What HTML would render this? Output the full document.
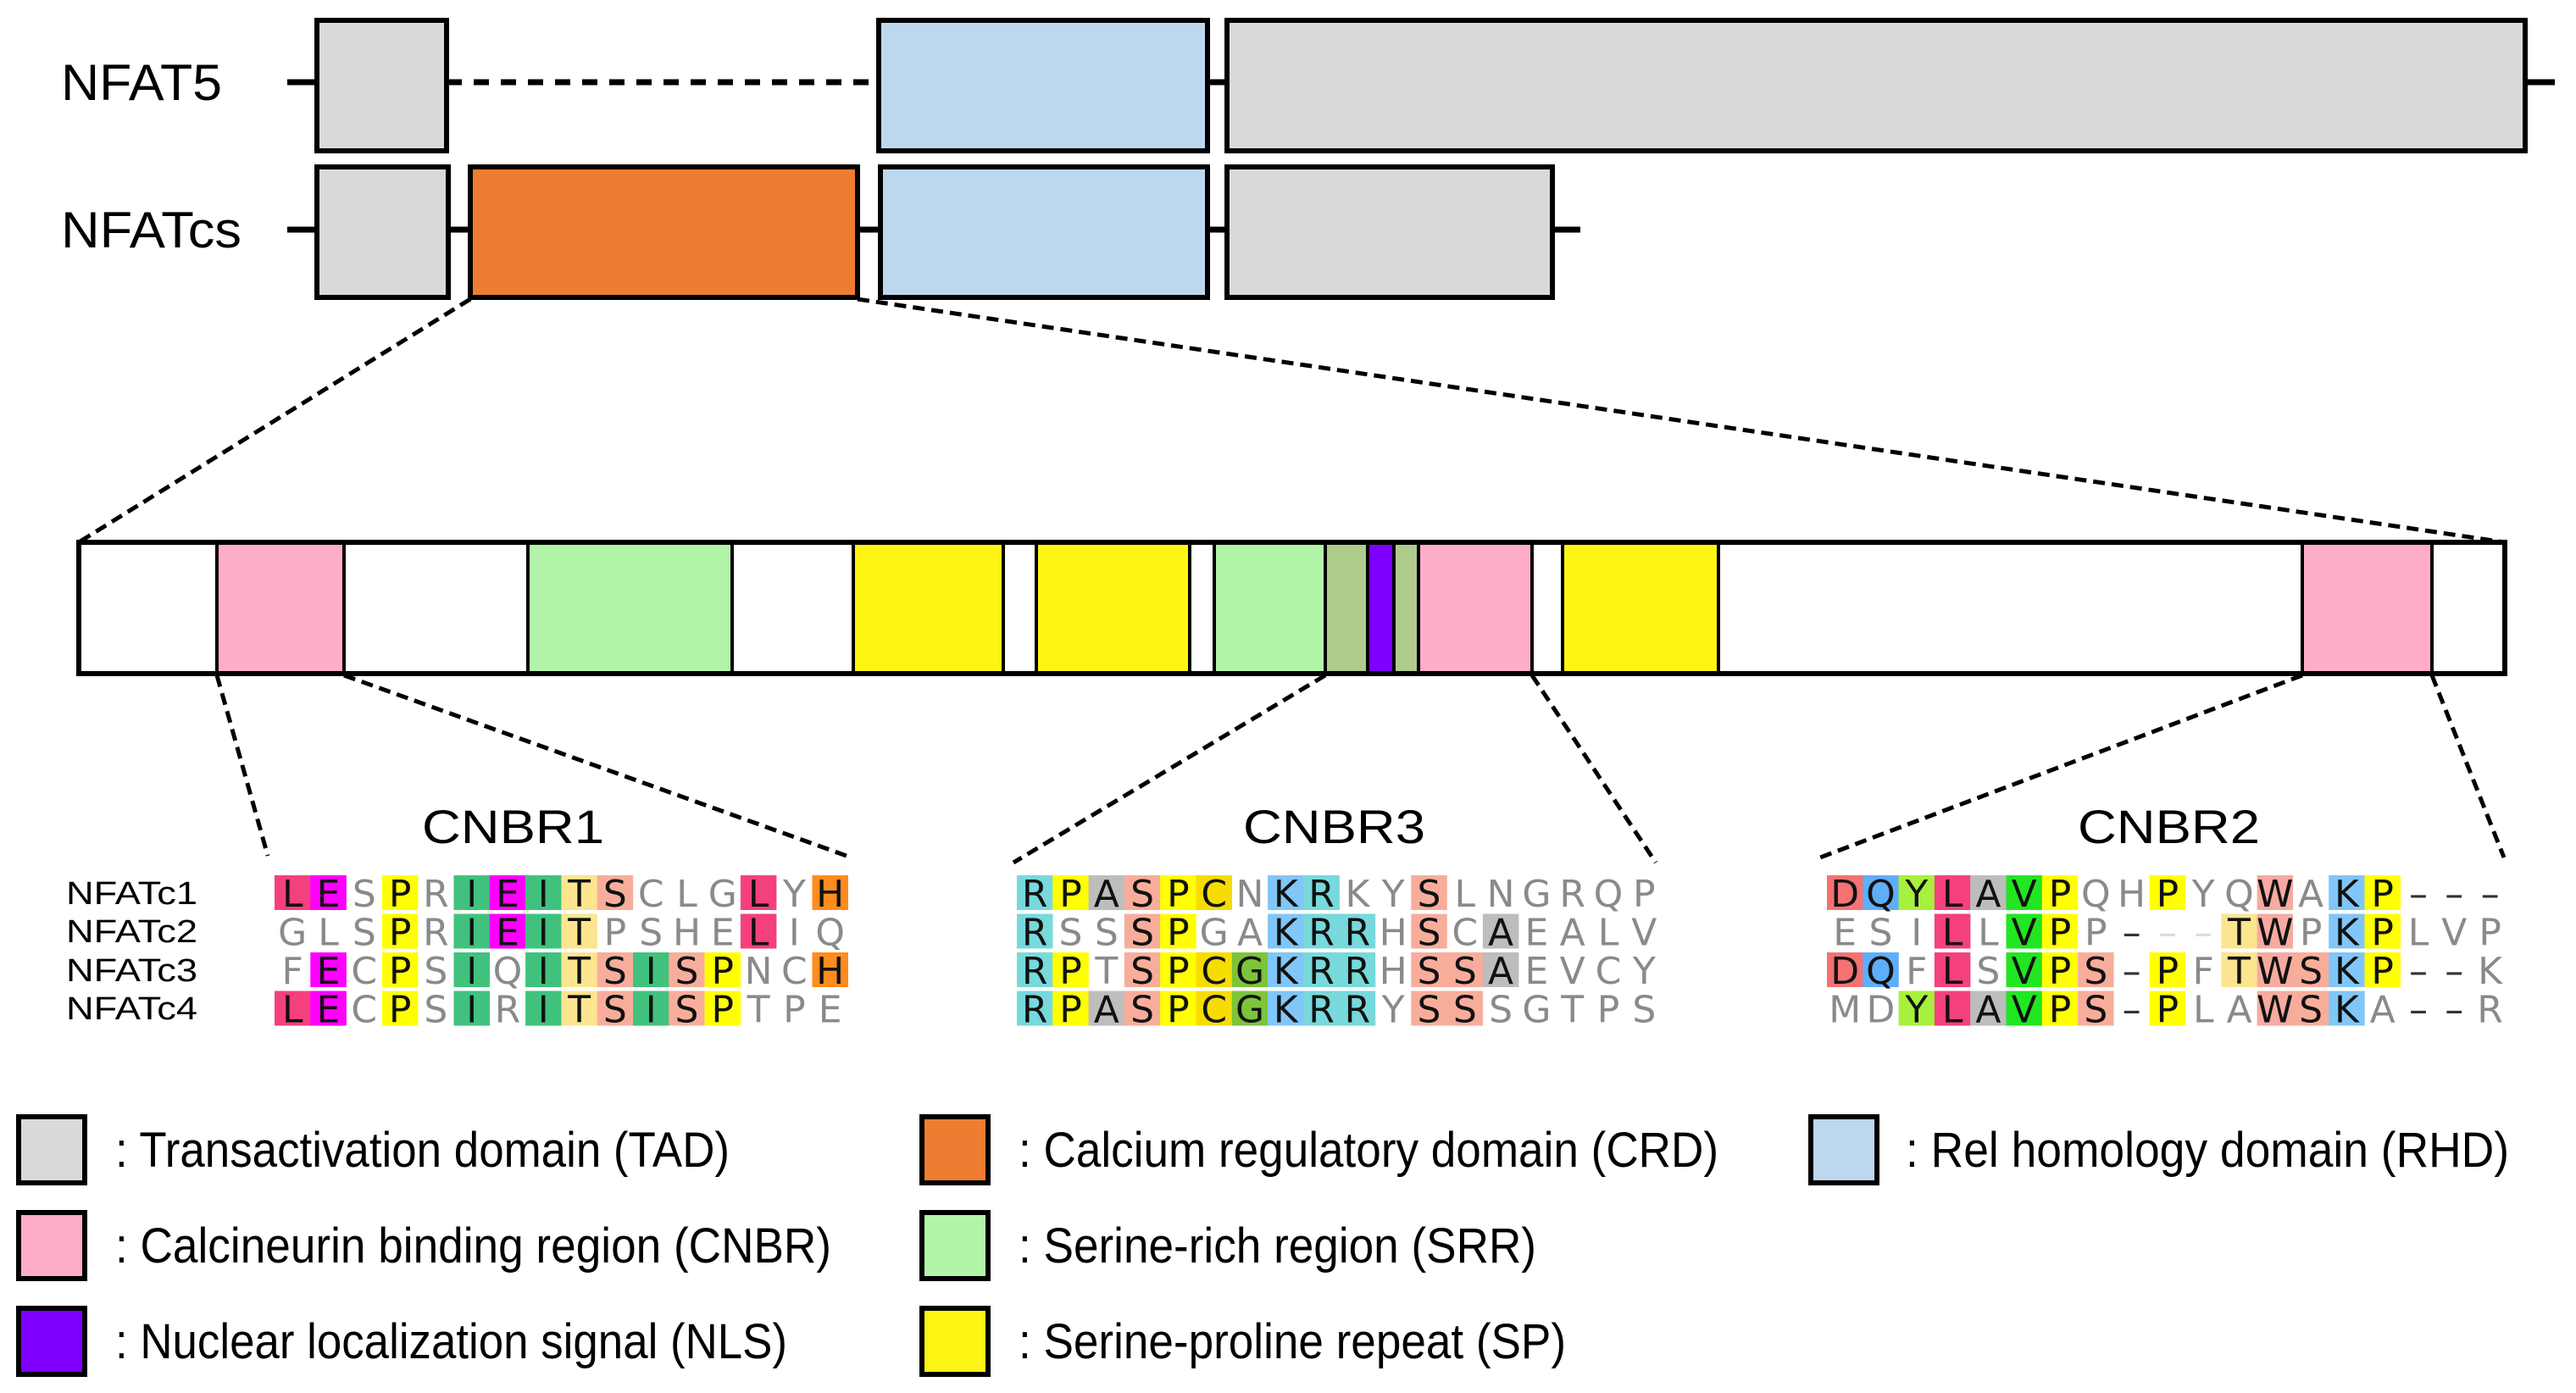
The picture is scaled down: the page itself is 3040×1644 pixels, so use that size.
<!DOCTYPE html>
<html><head><meta charset="utf-8"><style>
html,body{margin:0;padding:0;background:#fff;}
svg{display:block;}
.lbl{font-family:"Liberation Sans",sans-serif;fill:#000;}
.seq{font-family:"DejaVu Sans","Liberation Sans",sans-serif;font-size:44px;fill:#111;}
.g{fill:#8a8a8a;}
.d{fill:#333;}
.lg{fill:#ddd;}
</style></head><body>
<svg width="3040" height="1644" viewBox="0 0 3040 1644" xmlns="http://www.w3.org/2000/svg">
<rect width="3040" height="1644" fill="#fff"/>

<text class="lbl" x="72" y="118" font-size="60" textLength="190" lengthAdjust="spacingAndGlyphs">NFAT5</text>
<line x1="339" y1="97" x2="374" y2="97" stroke="#000" stroke-width="7"/>
<line x1="527" y1="97" x2="1037" y2="97" stroke="#000" stroke-width="7" stroke-dasharray="18 14"/>
<line x1="1425" y1="97" x2="1448" y2="97" stroke="#000" stroke-width="7"/>
<line x1="2980" y1="97" x2="3015" y2="97" stroke="#000" stroke-width="7"/>
<rect x="374" y="24" width="153" height="154" fill="#d9d9d9" stroke="#000" stroke-width="6"/>
<rect x="1037" y="24" width="388" height="154" fill="#bdd7ee" stroke="#000" stroke-width="6"/>
<rect x="1448" y="24" width="1532" height="154" fill="#d9d9d9" stroke="#000" stroke-width="6"/>

<text class="lbl" x="72" y="292" font-size="60" textLength="213" lengthAdjust="spacingAndGlyphs">NFATcs</text>
<line x1="339" y1="271" x2="1865" y2="271" stroke="#000" stroke-width="7"/>
<rect x="374" y="197" width="155" height="154" fill="#d9d9d9" stroke="#000" stroke-width="6"/>
<rect x="555" y="197" width="457" height="154" fill="#ed7d31" stroke="#000" stroke-width="6"/>
<rect x="1039" y="197" width="386" height="154" fill="#bdd7ee" stroke="#000" stroke-width="6"/>
<rect x="1448" y="197" width="384" height="154" fill="#d9d9d9" stroke="#000" stroke-width="6"/>

<g stroke="#000" stroke-width="5" stroke-dasharray="14 8" fill="none">
<line x1="555" y1="353" x2="93" y2="640"/>
<line x1="1012" y1="353" x2="2956" y2="640"/>
<line x1="256" y1="797" x2="316" y2="1010"/>
<line x1="406" y1="797" x2="999" y2="1010"/>
<line x1="1564" y1="797" x2="1196" y2="1018"/>
<line x1="1808" y1="797" x2="1954" y2="1018"/>
<line x1="2717" y1="797" x2="2148" y2="1012"/>
<line x1="2870" y1="797" x2="2955" y2="1012"/>
</g>

<rect x="93" y="640" width="2863" height="155" fill="#fff"/>
<rect x="256" y="640" width="150" height="155" fill="#ffadc8"/>
<rect x="623" y="640" width="241" height="155" fill="#b3f5a8"/>
<rect x="1007" y="640" width="177" height="155" fill="#fff514"/>
<rect x="1223" y="640" width="181" height="155" fill="#fff514"/>
<rect x="1433" y="640" width="131" height="155" fill="#b3f5a8"/>
<rect x="1564" y="640" width="50" height="155" fill="#b0cc8c"/>
<rect x="1614" y="640" width="31" height="155" fill="#7f00ff"/>
<rect x="1645" y="640" width="29" height="155" fill="#b0cc8c"/>
<rect x="1674" y="640" width="134" height="155" fill="#ffadc8"/>
<rect x="1844" y="640" width="184" height="155" fill="#fff514"/>
<rect x="2717" y="640" width="153" height="155" fill="#ffadc8"/>
<g stroke="#000" stroke-width="4">
<line x1="256" y1="640" x2="256" y2="795"/><line x1="406" y1="640" x2="406" y2="795"/>
<line x1="623" y1="640" x2="623" y2="795"/><line x1="864" y1="640" x2="864" y2="795"/>
<line x1="1007" y1="640" x2="1007" y2="795"/><line x1="1184" y1="640" x2="1184" y2="795"/>
<line x1="1223" y1="640" x2="1223" y2="795"/><line x1="1404" y1="640" x2="1404" y2="795"/>
<line x1="1433" y1="640" x2="1433" y2="795"/><line x1="1564" y1="640" x2="1564" y2="795"/>
<line x1="1614" y1="640" x2="1614" y2="795"/><line x1="1645" y1="640" x2="1645" y2="795"/>
<line x1="1674" y1="640" x2="1674" y2="795"/><line x1="1808" y1="640" x2="1808" y2="795"/>
<line x1="1844" y1="640" x2="1844" y2="795"/><line x1="2028" y1="640" x2="2028" y2="795"/>
<line x1="2717" y1="640" x2="2717" y2="795"/><line x1="2870" y1="640" x2="2870" y2="795"/>
</g>
<rect x="93" y="640" width="2863" height="155" fill="none" stroke="#000" stroke-width="6"/>

<text class="lbl" x="498" y="995" font-size="56" textLength="215" lengthAdjust="spacingAndGlyphs">CNBR1</text>
<text class="lbl" x="1467" y="995" font-size="56" textLength="215" lengthAdjust="spacingAndGlyphs">CNBR3</text>
<text class="lbl" x="2452" y="995" font-size="56" textLength="215" lengthAdjust="spacingAndGlyphs">CNBR2</text>

<g class="lbl" font-size="38">
<text x="78" y="1067" textLength="155" lengthAdjust="spacingAndGlyphs">NFATc1</text>
<text x="78" y="1112" textLength="155" lengthAdjust="spacingAndGlyphs">NFATc2</text>
<text x="78" y="1158" textLength="155" lengthAdjust="spacingAndGlyphs">NFATc3</text>
<text x="78" y="1203" textLength="155" lengthAdjust="spacingAndGlyphs">NFATc4</text>
</g>

<g transform="translate(324,1033)">
<g>
<rect x="0" y="0" width="42.5" height="41" fill="#f5407e"/>
<rect x="42.3" y="0" width="42.5" height="41" fill="#ff00ff"/>
<rect x="126.9" y="0" width="42.5" height="41" fill="#ffff00"/>
<rect x="211.5" y="0" width="42.5" height="41" fill="#40c27e"/>
<rect x="253.8" y="0" width="42.5" height="41" fill="#ff00ff"/>
<rect x="296.1" y="0" width="42.5" height="41" fill="#40c27e"/>
<rect x="338.4" y="0" width="42.5" height="41" fill="#fde48f"/>
<rect x="380.7" y="0" width="42.5" height="41" fill="#f8ad9b"/>
<rect x="549.9" y="0" width="42.5" height="41" fill="#f5407e"/>
<rect x="634.5" y="0" width="42.5" height="41" fill="#ff8c1e"/>

<rect x="126.9" y="45.5" width="42.5" height="41" fill="#ffff00"/>
<rect x="211.5" y="45.5" width="42.5" height="41" fill="#40c27e"/>
<rect x="253.8" y="45.5" width="42.5" height="41" fill="#ff00ff"/>
<rect x="296.1" y="45.5" width="42.5" height="41" fill="#40c27e"/>
<rect x="338.4" y="45.5" width="42.5" height="41" fill="#fde48f"/>
<rect x="549.9" y="45.5" width="42.5" height="41" fill="#f5407e"/>

<rect x="42.3" y="91" width="42.5" height="41" fill="#ff00ff"/>
<rect x="126.9" y="91" width="42.5" height="41" fill="#ffff00"/>
<rect x="211.5" y="91" width="42.5" height="41" fill="#40c27e"/>
<rect x="296.1" y="91" width="42.5" height="41" fill="#40c27e"/>
<rect x="338.4" y="91" width="42.5" height="41" fill="#fde48f"/>
<rect x="380.7" y="91" width="42.5" height="41" fill="#f8ad9b"/>
<rect x="423" y="91" width="42.5" height="41" fill="#40c27e"/>
<rect x="465.3" y="91" width="42.5" height="41" fill="#f8ad9b"/>
<rect x="507.6" y="91" width="42.5" height="41" fill="#ffff00"/>
<rect x="634.5" y="91" width="42.5" height="41" fill="#ff8c1e"/>

<rect x="0" y="136.5" width="42.5" height="41" fill="#f5407e"/>
<rect x="42.3" y="136.5" width="42.5" height="41" fill="#ff00ff"/>
<rect x="126.9" y="136.5" width="42.5" height="41" fill="#ffff00"/>
<rect x="211.5" y="136.5" width="42.5" height="41" fill="#40c27e"/>
<rect x="296.1" y="136.5" width="42.5" height="41" fill="#40c27e"/>
<rect x="338.4" y="136.5" width="42.5" height="41" fill="#fde48f"/>
<rect x="380.7" y="136.5" width="42.5" height="41" fill="#f8ad9b"/>
<rect x="423" y="136.5" width="42.5" height="41" fill="#40c27e"/>
<rect x="465.3" y="136.5" width="42.5" height="41" fill="#f8ad9b"/>
<rect x="507.6" y="136.5" width="42.5" height="41" fill="#ffff00"/>
</g>
<g class="seq" text-anchor="middle">
<text y="37" x="21.2 63.5 105.8 148.1 190.4 232.7 275 317.3 359.6 401.9 444.2 486.5 528.8 571.1 613.4 655.7">LE<tspan class="g">S</tspan>P<tspan class="g">R</tspan>IEITS<tspan class="g">CLG</tspan>L<tspan class="g">Y</tspan>H</text>
<text y="82.5" x="21.2 63.5 105.8 148.1 190.4 232.7 275 317.3 359.6 401.9 444.2 486.5 528.8 571.1 613.4 655.7"><tspan class="g">GLS</tspan>P<tspan class="g">R</tspan>IEIT<tspan class="g">PSHE</tspan>L<tspan class="g">IQ</tspan></text>
<text y="128" x="21.2 63.5 105.8 148.1 190.4 232.7 275 317.3 359.6 401.9 444.2 486.5 528.8 571.1 613.4 655.7"><tspan class="g">F</tspan>E<tspan class="g">C</tspan>P<tspan class="g">S</tspan>I<tspan class="g">Q</tspan>ITSISP<tspan class="g">NC</tspan>H</text>
<text y="173.5" x="21.2 63.5 105.8 148.1 190.4 232.7 275 317.3 359.6 401.9 444.2 486.5 528.8 571.1 613.4 655.7">LE<tspan class="g">C</tspan>P<tspan class="g">S</tspan>I<tspan class="g">R</tspan>ITSISP<tspan class="g">TPE</tspan></text>
</g>
</g>

<g transform="translate(1200,1033)">
<g>
<rect x="0" y="0" width="42.5" height="41" fill="#77d9dc"/>
<rect x="42.3" y="0" width="42.5" height="41" fill="#ffff00"/>
<rect x="84.6" y="0" width="42.5" height="41" fill="#bdbdbd"/>
<rect x="126.9" y="0" width="42.5" height="41" fill="#f8ad9b"/>
<rect x="169.2" y="0" width="42.5" height="41" fill="#ffff00"/>
<rect x="211.5" y="0" width="42.5" height="41" fill="#f7dc00"/>
<rect x="296.1" y="0" width="42.5" height="41" fill="#80c6f8"/>
<rect x="338.4" y="0" width="42.5" height="41" fill="#77d9dc"/>
<rect x="465.3" y="0" width="42.5" height="41" fill="#f8ad9b"/>

<rect x="0" y="45.5" width="42.5" height="41" fill="#77d9dc"/>
<rect x="126.9" y="45.5" width="42.5" height="41" fill="#f8ad9b"/>
<rect x="169.2" y="45.5" width="42.5" height="41" fill="#ffff00"/>
<rect x="296.1" y="45.5" width="42.5" height="41" fill="#80c6f8"/>
<rect x="338.4" y="45.5" width="84.8" height="41" fill="#77d9dc"/>
<rect x="465.3" y="45.5" width="42.5" height="41" fill="#f8ad9b"/>
<rect x="549.9" y="45.5" width="42.5" height="41" fill="#bdbdbd"/>

<rect x="0" y="91" width="42.5" height="41" fill="#77d9dc"/>
<rect x="42.3" y="91" width="42.5" height="41" fill="#ffff00"/>
<rect x="126.9" y="91" width="42.5" height="41" fill="#f8ad9b"/>
<rect x="169.2" y="91" width="42.5" height="41" fill="#ffff00"/>
<rect x="211.5" y="91" width="42.5" height="41" fill="#f7dc00"/>
<rect x="253.8" y="91" width="42.5" height="41" fill="#7cc43a"/>
<rect x="296.1" y="91" width="42.5" height="41" fill="#80c6f8"/>
<rect x="338.4" y="91" width="84.8" height="41" fill="#77d9dc"/>
<rect x="465.3" y="91" width="84.8" height="41" fill="#f8ad9b"/>
<rect x="549.9" y="91" width="42.5" height="41" fill="#bdbdbd"/>

<rect x="0" y="136.5" width="42.5" height="41" fill="#77d9dc"/>
<rect x="42.3" y="136.5" width="42.5" height="41" fill="#ffff00"/>
<rect x="84.6" y="136.5" width="42.5" height="41" fill="#bdbdbd"/>
<rect x="126.9" y="136.5" width="42.5" height="41" fill="#f8ad9b"/>
<rect x="169.2" y="136.5" width="42.5" height="41" fill="#ffff00"/>
<rect x="211.5" y="136.5" width="42.5" height="41" fill="#f7dc00"/>
<rect x="253.8" y="136.5" width="42.5" height="41" fill="#7cc43a"/>
<rect x="296.1" y="136.5" width="42.5" height="41" fill="#80c6f8"/>
<rect x="338.4" y="136.5" width="84.8" height="41" fill="#77d9dc"/>
<rect x="465.3" y="136.5" width="84.8" height="41" fill="#f8ad9b"/>
</g>
<g class="seq" text-anchor="middle">
<text y="37" x="21.2 63.5 105.8 148.1 190.4 232.7 275 317.3 359.6 401.9 444.2 486.5 528.8 571.1 613.4 655.7 698 740.3">RPASPC<tspan class="g">N</tspan>KR<tspan class="g">KY</tspan>S<tspan class="g">LNGRQP</tspan></text>
<text y="82.5" x="21.2 63.5 105.8 148.1 190.4 232.7 275 317.3 359.6 401.9 444.2 486.5 528.8 571.1 613.4 655.7 698 740.3">R<tspan class="g">SS</tspan>SP<tspan class="g">GA</tspan>KRR<tspan class="g">H</tspan>S<tspan class="g">C</tspan>A<tspan class="g">EALV</tspan></text>
<text y="128" x="21.2 63.5 105.8 148.1 190.4 232.7 275 317.3 359.6 401.9 444.2 486.5 528.8 571.1 613.4 655.7 698 740.3">RP<tspan class="g">T</tspan>SPCGKRR<tspan class="g">H</tspan>SSA<tspan class="g">EVCY</tspan></text>
<text y="173.5" x="21.2 63.5 105.8 148.1 190.4 232.7 275 317.3 359.6 401.9 444.2 486.5 528.8 571.1 613.4 655.7 698 740.3">RPASPCGKRR<tspan class="g">Y</tspan>SS<tspan class="g">SGTPS</tspan></text>
</g>
</g>

<g transform="translate(2156,1033)">
<g>
<rect x="0" y="0" width="42.5" height="41" fill="#f47272"/>
<rect x="42.3" y="0" width="42.5" height="41" fill="#5eaefa"/>
<rect x="84.6" y="0" width="42.5" height="41" fill="#a8f03e"/>
<rect x="126.9" y="0" width="42.5" height="41" fill="#f5407e"/>
<rect x="169.2" y="0" width="42.5" height="41" fill="#bdbdbd"/>
<rect x="211.5" y="0" width="42.5" height="41" fill="#22e622"/>
<rect x="253.8" y="0" width="42.5" height="41" fill="#ffff00"/>
<rect x="380.7" y="0" width="42.5" height="41" fill="#ffff00"/>
<rect x="507.6" y="0" width="42.5" height="41" fill="#f7aaa0"/>
<rect x="592.2" y="0" width="42.5" height="41" fill="#80c6f8"/>
<rect x="634.5" y="0" width="42.5" height="41" fill="#ffff00"/>

<rect x="126.9" y="45.5" width="42.5" height="41" fill="#f5407e"/>
<rect x="211.5" y="45.5" width="42.5" height="41" fill="#22e622"/>
<rect x="253.8" y="45.5" width="42.5" height="41" fill="#ffff00"/>
<rect x="465.3" y="45.5" width="42.5" height="41" fill="#fde48f"/>
<rect x="507.6" y="45.5" width="42.5" height="41" fill="#f7aaa0"/>
<rect x="592.2" y="45.5" width="42.5" height="41" fill="#80c6f8"/>
<rect x="634.5" y="45.5" width="42.5" height="41" fill="#ffff00"/>

<rect x="0" y="91" width="42.5" height="41" fill="#f47272"/>
<rect x="42.3" y="91" width="42.5" height="41" fill="#5eaefa"/>
<rect x="126.9" y="91" width="42.5" height="41" fill="#f5407e"/>
<rect x="211.5" y="91" width="42.5" height="41" fill="#22e622"/>
<rect x="253.8" y="91" width="42.5" height="41" fill="#ffff00"/>
<rect x="296.1" y="91" width="42.5" height="41" fill="#f8ad9b"/>
<rect x="380.7" y="91" width="42.5" height="41" fill="#ffff00"/>
<rect x="465.3" y="91" width="42.5" height="41" fill="#fde48f"/>
<rect x="507.6" y="91" width="42.5" height="41" fill="#f7aaa0"/>
<rect x="549.9" y="91" width="42.5" height="41" fill="#f8ad9b"/>
<rect x="592.2" y="91" width="42.5" height="41" fill="#80c6f8"/>
<rect x="634.5" y="91" width="42.5" height="41" fill="#ffff00"/>

<rect x="84.6" y="136.5" width="42.5" height="41" fill="#a8f03e"/>
<rect x="126.9" y="136.5" width="42.5" height="41" fill="#f5407e"/>
<rect x="169.2" y="136.5" width="42.5" height="41" fill="#bdbdbd"/>
<rect x="211.5" y="136.5" width="42.5" height="41" fill="#22e622"/>
<rect x="253.8" y="136.5" width="42.5" height="41" fill="#ffff00"/>
<rect x="296.1" y="136.5" width="42.5" height="41" fill="#f8ad9b"/>
<rect x="380.7" y="136.5" width="42.5" height="41" fill="#ffff00"/>
<rect x="507.6" y="136.5" width="42.5" height="41" fill="#f7aaa0"/>
<rect x="549.9" y="136.5" width="42.5" height="41" fill="#f8ad9b"/>
<rect x="592.2" y="136.5" width="42.5" height="41" fill="#80c6f8"/>
</g>
<g class="seq" text-anchor="middle">
<text y="37" x="21.2 63.5 105.8 148.1 190.4 232.7 275 317.3 359.6 401.9 444.2 486.5 528.8 571.1 613.4 655.7 698 740.3 782.6">DQYLAVP<tspan class="g">QH</tspan>P<tspan class="g">YQ</tspan>W<tspan class="g">A</tspan>KP<tspan class="d">–––</tspan></text>
<text y="82.5" x="21.2 63.5 105.8 148.1 190.4 232.7 275 317.3 359.6 401.9 444.2 486.5 528.8 571.1 613.4 655.7 698 740.3 782.6"><tspan class="g">ESI</tspan>L<tspan class="g">L</tspan>VP<tspan class="g">P</tspan><tspan class="d">–</tspan><tspan class="lg">––</tspan>TW<tspan class="g">P</tspan>KP<tspan class="g">LVP</tspan></text>
<text y="128" x="21.2 63.5 105.8 148.1 190.4 232.7 275 317.3 359.6 401.9 444.2 486.5 528.8 571.1 613.4 655.7 698 740.3 782.6">DQ<tspan class="g">F</tspan>L<tspan class="g">S</tspan>VPS<tspan class="d">–</tspan>P<tspan class="g">F</tspan>TWSKP<tspan class="d">––</tspan><tspan class="g">K</tspan></text>
<text y="173.5" x="21.2 63.5 105.8 148.1 190.4 232.7 275 317.3 359.6 401.9 444.2 486.5 528.8 571.1 613.4 655.7 698 740.3 782.6"><tspan class="g">MD</tspan>YLAVPS<tspan class="d">–</tspan>P<tspan class="g">LA</tspan>WSK<tspan class="g">A</tspan><tspan class="d">––</tspan><tspan class="g">R</tspan></text>
</g>
</g>

<g stroke="#000" stroke-width="6">
<rect x="22" y="1318" width="78" height="78" fill="#d9d9d9"/>
<rect x="22" y="1431" width="78" height="78" fill="#ffadc8"/>
<rect x="22" y="1544" width="78" height="78" fill="#7f00ff"/>
<rect x="1088" y="1318" width="78" height="78" fill="#ed7d31"/>
<rect x="1088" y="1431" width="78" height="78" fill="#b3f5a8"/>
<rect x="1088" y="1544" width="78" height="78" fill="#fff514"/>
<rect x="2137" y="1318" width="78" height="78" fill="#bdd7ee"/>
</g>
<g class="lbl" font-size="58">
<text x="136" y="1377" textLength="725" lengthAdjust="spacingAndGlyphs">: Transactivation  domain  (TAD)</text>
<text x="136" y="1490" textLength="845" lengthAdjust="spacingAndGlyphs">: Calcineurin  binding  region  (CNBR)</text>
<text x="136" y="1603" textLength="793" lengthAdjust="spacingAndGlyphs">: Nuclear  localization  signal  (NLS)</text>
<text x="1202" y="1377" textLength="826" lengthAdjust="spacingAndGlyphs">: Calcium  regulatory  domain  (CRD)</text>
<text x="1202" y="1490" textLength="611" lengthAdjust="spacingAndGlyphs">: Serine-rich  region  (SRR)</text>
<text x="1202" y="1603" textLength="646" lengthAdjust="spacingAndGlyphs">: Serine-proline  repeat  (SP)</text>
<text x="2249" y="1377" textLength="712" lengthAdjust="spacingAndGlyphs">: Rel  homology  domain  (RHD)</text>
</g>
</svg>
</body></html>
